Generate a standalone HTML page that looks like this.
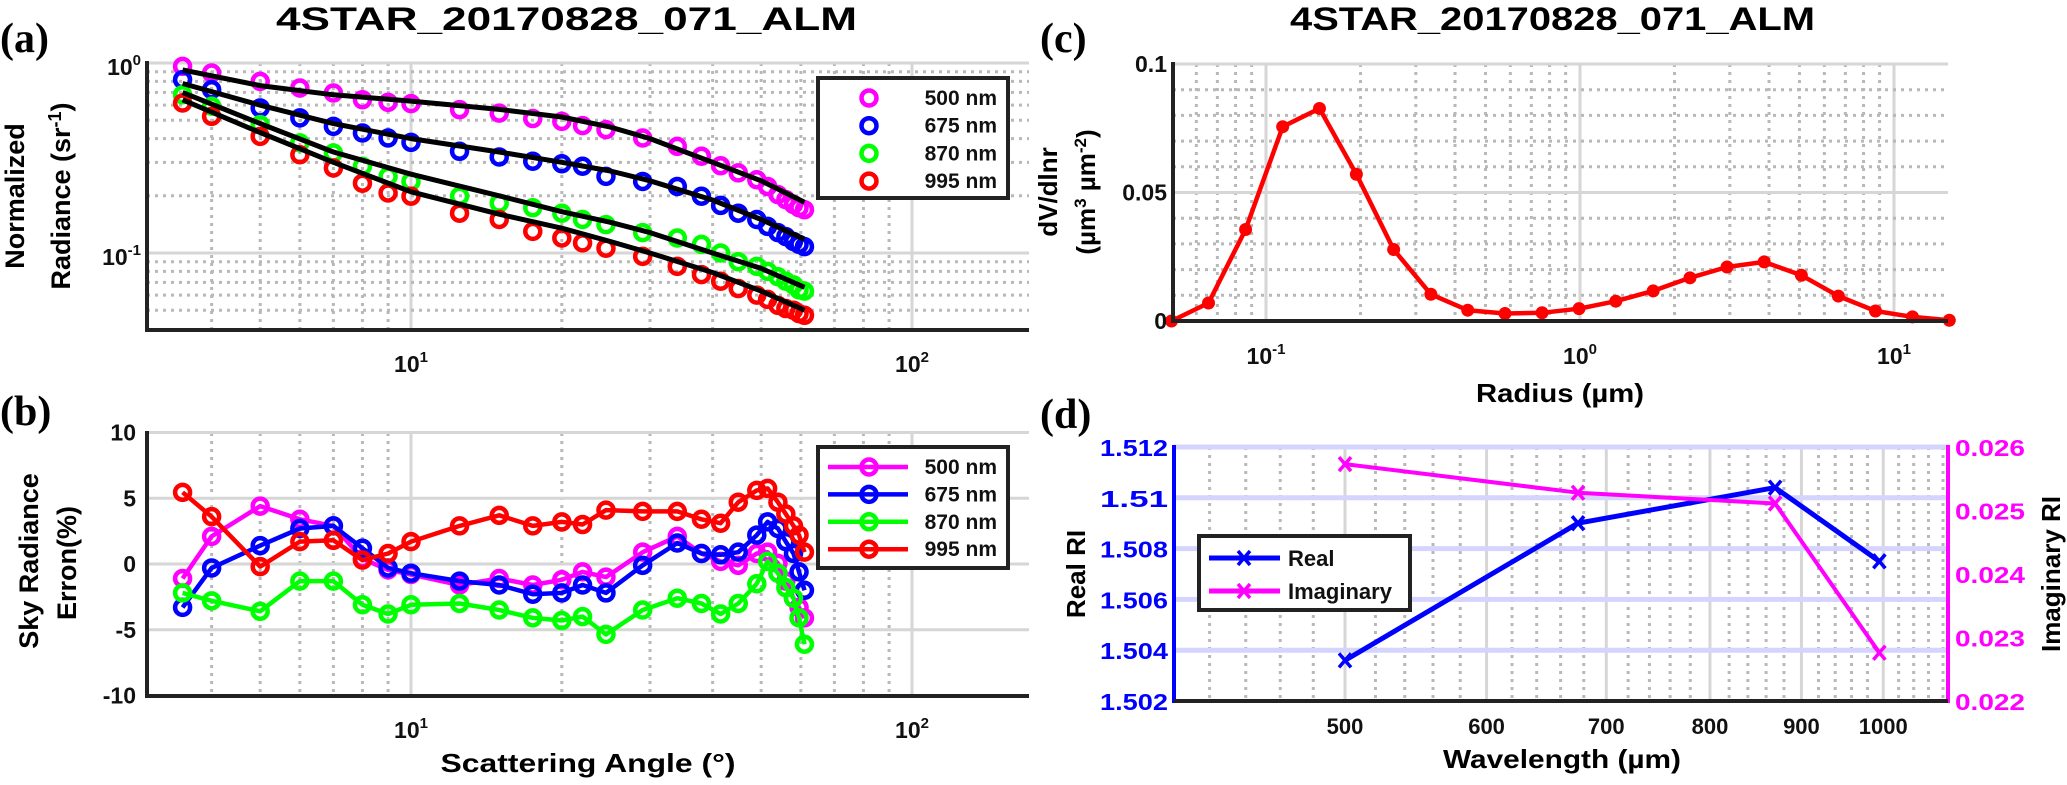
<!DOCTYPE html>
<html><head><meta charset="utf-8"><style>
html,body{margin:0;padding:0;background:#fff;}
svg{display:block;font-family:"Liberation Sans",sans-serif;}
</style></head><body>
<svg id="fig" width="2067" height="785" viewBox="0 0 2067 785" xmlns="http://www.w3.org/2000/svg">
<text x="0" y="52" font-family="Liberation Serif" font-weight="bold" font-size="42">(a)</text>
<text x="0" y="425" font-family="Liberation Serif" font-weight="bold" font-size="42">(b)</text>
<text x="1040" y="52" font-family="Liberation Serif" font-weight="bold" font-size="42">(c)</text>
<text x="1040" y="428" font-family="Liberation Serif" font-weight="bold" font-size="42">(d)</text>
<text x="276" y="30" font-weight="bold" font-size="32" textLength="581" lengthAdjust="spacingAndGlyphs">4STAR_20170828_071_ALM</text>
<text x="1290" y="30" font-weight="bold" font-size="32" textLength="525" lengthAdjust="spacingAndGlyphs">4STAR_20170828_071_ALM</text>
<text transform="translate(24,196) rotate(-90)" text-anchor="middle" font-weight="bold" font-size="27">Normalized</text>
<text transform="translate(70,196) rotate(-90)" text-anchor="middle" font-weight="bold" font-size="27">Radiance (sr<tspan dy="-9" font-size="18">-1</tspan><tspan dy="9">)</tspan></text>
<text transform="translate(38,561) rotate(-90)" text-anchor="middle" font-weight="bold" font-size="27">Sky Radiance</text>
<text transform="translate(76,563) rotate(-90)" text-anchor="middle" font-weight="bold" font-size="27">Erron(%)</text>
<text x="588" y="772" text-anchor="middle" font-weight="bold" font-size="26" textLength="295" lengthAdjust="spacingAndGlyphs">Scattering Angle (°)</text>
<text transform="translate(1057,192) rotate(-90)" text-anchor="middle" font-weight="bold" font-size="26">dV/dlnr</text>
<text transform="translate(1095,192) rotate(-90)" text-anchor="middle" font-weight="bold" font-size="26">(µm<tspan dy="-9" font-size="17">3</tspan><tspan dy="9"> µm</tspan><tspan dy="-9" font-size="17">-2</tspan><tspan dy="9">)</tspan></text>
<text x="1560" y="402" text-anchor="middle" font-weight="bold" font-size="26" textLength="168" lengthAdjust="spacingAndGlyphs">Radius (µm)</text>
<text transform="translate(1085,574) rotate(-90)" text-anchor="middle" font-weight="bold" font-size="26">Real RI</text>
<text transform="translate(2060,574) rotate(-90)" text-anchor="middle" font-weight="bold" font-size="26">Imaginary RI</text>
<text x="1562" y="768" text-anchor="middle" font-weight="bold" font-size="26" textLength="238" lengthAdjust="spacingAndGlyphs">Wavelength (µm)</text>
</svg>
<script>
// ---------- data ----------
const anglesA = [3.5,4,5,6,7,8,9,10,12.5,15,17.5,20,22,24.5,29,34,38,41.5,45,49,51.5,54,56,58,59.5,61];
const rad500 = [0.96,0.886,0.80,0.739,0.695,0.641,0.621,0.611,0.568,0.545,0.510,0.493,0.468,0.446,0.403,0.364,0.323,0.288,0.264,0.243,0.224,0.203,0.191,0.180,0.173,0.169];
const rad675 = [0.817,0.724,0.580,0.514,0.464,0.428,0.403,0.382,0.343,0.320,0.304,0.295,0.286,0.253,0.238,0.224,0.199,0.178,0.162,0.150,0.138,0.128,0.122,0.115,0.111,0.108];
const rad870 = [0.681,0.592,0.474,0.380,0.336,0.286,0.253,0.238,0.199,0.183,0.173,0.162,0.150,0.141,0.128,0.120,0.111,0.100,0.090,0.085,0.080,0.075,0.071,0.068,0.064,0.063];
const rad995 = [0.616,0.524,0.411,0.329,0.280,0.233,0.207,0.199,0.162,0.150,0.130,0.120,0.113,0.106,0.096,0.085,0.077,0.071,0.065,0.060,0.057,0.053,0.051,0.050,0.048,0.047];
const fitAngles = [3.5,5,7,10,15,20,25,30,40,50,61];
const fit500 = [0.92,0.76,0.68,0.63,0.57,0.52,0.46,0.40,0.30,0.24,0.185];
const fit675 = [0.78,0.60,0.48,0.40,0.34,0.30,0.27,0.24,0.19,0.15,0.118];
const fit870 = [0.70,0.48,0.34,0.26,0.20,0.165,0.145,0.128,0.10,0.083,0.066];
const fit995 = [0.64,0.43,0.30,0.21,0.16,0.135,0.115,0.10,0.079,0.063,0.050];
const err500 = [-1.1,2.1,4.4,3.4,2.9,0.4,-0.45,-0.8,-1.6,-1.1,-1.6,-1.2,-0.6,-1.0,0.9,2.1,0.8,0.2,-0.1,0.8,0.9,0.05,-1.3,-2.6,-3.3,-4.1];
const err675 = [-3.3,-0.3,1.4,2.7,2.9,1.2,-0.3,-0.7,-1.3,-1.6,-2.3,-2.2,-1.6,-2.2,-0.1,1.6,0.8,0.7,0.9,2.2,3.2,2.7,1.7,0.8,-0.6,-2.0];
const err870 = [-2.2,-2.8,-3.6,-1.3,-1.3,-3.1,-3.8,-3.1,-3.0,-3.5,-4.1,-4.3,-4.0,-5.35,-3.5,-2.6,-3.0,-3.8,-3.0,-1.5,0.2,-0.7,-1.8,-2.6,-4.1,-6.1];
const err995 = [5.45,3.6,-0.2,1.7,1.8,0.3,0.8,1.7,2.9,3.7,2.9,3.2,3.0,4.1,4.0,4.0,3.4,3.1,4.7,5.6,5.75,4.7,3.8,2.9,2.2,0.9];
const seriesLabels = ["500 nm","675 nm","870 nm","995 nm"];
const radiusC = [0.05,0.0656,0.0861,0.113,0.148,0.194,0.255,0.335,0.439,0.577,0.757,0.993,1.30,1.71,2.24,2.94,3.86,5.07,6.65,8.73,11.45,15.0];
const dvdlnr = [0,0.007,0.0356,0.0756,0.0827,0.0571,0.0278,0.0104,0.0042,0.0029,0.0032,0.0048,0.0077,0.0117,0.0168,0.021,0.023,0.0178,0.0097,0.0039,0.0016,0.0003];
const wavelengthD = [500,675,870,995];
const realRI = [1.5036,1.5090,1.5104,1.5075];
const imagRI = [0.02573,0.02528,0.02511,0.02276];
const ticksB_y = [10,5,0,-5,-10];
const ticksC_y = ["0.1","0.05","0"];
const ticksD_yl = ["1.512","1.51","1.508","1.506","1.504","1.502"];
const ticksD_yr = ["0.026","0.025","0.024","0.023","0.022"];
const ticksD_x = [500,600,700,800,900,1000];

// ---------- scales ----------
const L10 = Math.log10;
const xa = v => 411 + (L10(v)-1)*501;
const ya = v => 63 - L10(v)*190;
const yb = v => 564 - v*13.15;
const xc = v => 1580 + L10(v)*314;
const yc = v => 321 - v*2570;
const xd = v => 1345 + (L10(v)-L10(500))*1788;
const ydl = v => 701 - (v-1.502)*25400;
const ydr = v => 701 - (v-0.022)*63500;

const svg = document.getElementById('fig');
const NS = 'http://www.w3.org/2000/svg';
function mk(tag, attrs, name, parent){
  const el = document.createElementNS(NS, tag);
  for (const k in attrs) el.setAttribute(k, attrs[k]);
  
  
  (parent||svg).appendChild(el);
  return el;
}
function txt(x,y,s,name,extra){
  const t = mk('text', Object.assign({x:x,y:y,'font-weight':'bold','font-size':20,fill:'#111'}, extra||{}), name);
  t.textContent = s; return t;
}
function supTxt(x,y,base,exp,name,anchor){
  const t = mk('text', {x:x,y:y,'font-weight':'bold','font-size':23,fill:'#111','text-anchor':anchor||'middle'}, name);
  const a = document.createElementNS(NS,'tspan'); a.textContent = base; t.appendChild(a);
  const b = document.createElementNS(NS,'tspan'); b.setAttribute('dy','-10'); b.setAttribute('font-size','15'); b.textContent = exp; t.appendChild(b);
  return t;
}
const MAJ = '#d6d6d6', MIN = '#b8b8b8';
function vline(x,y1,y2,major,name){ mk('line',{x1:x,x2:x,y1:y1,y2:y2,stroke:major?MAJ:MIN,'stroke-width':3,'stroke-dasharray':major?'':'3 5'},name); }
function hline(y,x1,x2,major,name,col){ mk('line',{x1:x1,x2:x2,y1:y,y2:y,stroke:col||(major?MAJ:MIN),'stroke-width':col?5:3,'stroke-dasharray':(major||col)?'':'3 5'},name); }
function poly(xs,ys,col,w,name){
  const pts = xs.map((x,i)=>x.toFixed(1)+','+ys[i].toFixed(1)).join(' ');
  return mk('polyline',{points:pts,fill:'none',stroke:col,'stroke-width':w,'stroke-linejoin':'round'},name);
}
const cols = ['#ff00ff','#0000ff','#00ff00','#ff0000'];

// ---------- panel (a) ----------
(function(){
  const X0=147,X1=1029,Y0=63,Y1=330;
  [4,5,6,7,8,9,20,30,40,50,60,70,80,90].forEach(v=>vline(xa(v),Y0,Y1,false,'minor-grid-x-a'));
  [10,100].forEach(v=>vline(xa(v),Y0,Y1,true,'major-grid-x-a'));
  [0.05,0.06,0.07,0.08,0.09,0.2,0.3,0.4,0.5,0.6,0.7,0.8,0.9].forEach(v=>hline(ya(v),X0,X1,false,'minor-grid-y-a'));
  [0.1,1].forEach(v=>hline(ya(v),X0,X1,true,'major-grid-y-a'));
  const fits=[fit500,fit675,fit870,fit995], rads=[rad500,rad675,rad870,rad995];
  rads.forEach((r,s)=>{
    r.forEach((v,i)=>mk('circle',{cx:xa(anglesA[i]),cy:ya(v),r:7.5,fill:'none',stroke:cols[s],'stroke-width':4.5},'radiance-marker-'+seriesLabels[s].replace(' ','')));
  });
  fits.forEach((f,s)=>poly(fitAngles.map(xa),f.map(ya),'#000',5,'fit-line-'+seriesLabels[s].replace(' ','')));
  mk('line',{x1:X0,x2:X0,y1:Y0-2,y2:Y1+2,stroke:'#222','stroke-width':4},'y-axis-a');
  mk('line',{x1:X0-2,x2:X1,y1:Y1,y2:Y1,stroke:'#222','stroke-width':4},'x-axis-a');
  supTxt(141,75,'10','0','y-tick-label-a-1','end');
  supTxt(141,265,'10','-1','y-tick-label-a-0.1','end');
  supTxt(411,372,'10','1','x-tick-label-a-10');
  supTxt(912,372,'10','2','x-tick-label-a-100');
  mk('rect',{x:818,y:78,width:190,height:120,fill:'#fff',stroke:'#222','stroke-width':4},'legend-a');
  seriesLabels.forEach((s,i)=>{
    const y=98+i*27.7;
    mk('circle',{cx:869,cy:y,r:7.5,fill:'none',stroke:cols[i],'stroke-width':4.5},'legend-a-marker');
    txt(997,y+7,s,'legend-a-entry',{'text-anchor':'end','font-size':21});
  });
})();

// ---------- panel (b) ----------
(function(){
  const X0=147,X1=1029,Y0=433,Y1=696;
  [4,5,6,7,8,9,20,30,40,50,60,70,80,90].forEach(v=>vline(xa(v),Y0,Y1,false,'minor-grid-x-b'));
  [10,100].forEach(v=>vline(xa(v),Y0,Y1,true,'major-grid-x-b'));
  [10,5,0,-5].forEach(v=>hline(yb(v),X0,X1,true,'major-grid-y-b'));
  const errs=[err500,err675,err870,err995];
  errs.forEach((e,s)=>{
    const nm=seriesLabels[s].replace(' ','');
    poly(anglesA.map(xa),e.map(yb),cols[s],4.5,'error-line-'+nm);
    e.forEach((v,i)=>mk('circle',{cx:xa(anglesA[i]),cy:yb(v),r:7.5,fill:'none',stroke:cols[s],'stroke-width':4.5},'error-marker-'+nm));
  });
  mk('line',{x1:X0,x2:X0,y1:Y0-2,y2:Y1+2,stroke:'#222','stroke-width':4},'y-axis-b');
  mk('line',{x1:X0-2,x2:X1,y1:Y1,y2:Y1,stroke:'#222','stroke-width':4},'x-axis-b');
  ticksB_y.forEach(v=>txt(136,yb(v)+8,String(v),'y-tick-label-b',{'text-anchor':'end','font-size':23}));
  supTxt(411,738,'10','1','x-tick-label-b-10');
  supTxt(912,738,'10','2','x-tick-label-b-100');
  mk('rect',{x:818,y:447,width:190,height:121,fill:'#fff',stroke:'#222','stroke-width':4},'legend-b');
  seriesLabels.forEach((s,i)=>{
    const y=467+i*27.4;
    mk('line',{x1:828,x2:908,y1:y,y2:y,stroke:cols[i],'stroke-width':4.5},'legend-b-line');
    mk('circle',{cx:869,cy:y,r:7.5,fill:'none',stroke:cols[i],'stroke-width':4.5},'legend-b-marker');
    txt(997,y+7,s,'legend-b-entry',{'text-anchor':'end','font-size':21});
  });
})();

// ---------- panel (c) ----------
(function(){
  const X0=1173,X1=1948,Y0=64,Y1=321;
  [0.06,0.07,0.08,0.09,0.2,0.3,0.4,0.5,0.6,0.7,0.8,0.9,2,3,4,5,6,7,8,9].forEach(v=>vline(xc(v),Y0,Y1,false,'minor-grid-x-c'));
  [0.1,1,10].forEach(v=>vline(xc(v),Y0,Y1,true,'major-grid-x-c'));
  [0.01,0.02,0.03,0.04,0.06,0.07,0.08,0.09].forEach(v=>hline(yc(v),X0,X1,false,'minor-grid-y-c'));
  [0.05,0.1].forEach(v=>hline(yc(v),X0,X1,true,'major-grid-y-c'));
  poly(radiusC.map(xc),dvdlnr.map(yc),'#ff0000',4.5,'size-distribution-line');
  dvdlnr.forEach((v,i)=>mk('circle',{cx:xc(radiusC[i]),cy:yc(v),r:6.5,fill:'#ff0000'},'size-distribution-marker'));
  mk('line',{x1:X0,x2:X0,y1:Y0-2,y2:Y1+2,stroke:'#222','stroke-width':4},'y-axis-c');
  mk('line',{x1:X0-2,x2:X1,y1:Y1,y2:Y1,stroke:'#222','stroke-width':4},'x-axis-c');
  [0.1,0.05,0].forEach((v,i)=>txt(1167,yc(v)+8,ticksC_y[i],'y-tick-label-c',{'text-anchor':'end','font-size':23}));
  supTxt(1266,364,'10','-1','x-tick-label-c-0.1');
  supTxt(1580,364,'10','0','x-tick-label-c-1');
  supTxt(1894,364,'10','1','x-tick-label-c-10');
})();

// ---------- panel (d) ----------
(function(){
  const X0=1174,X1=1948,Y0=447,Y1=701;
  for(let v=420;v<=1080;v+=20){ if(v%100) vline(xd(v),Y0,Y1,false,'minor-grid-x-d'); }
  ticksD_x.forEach(v=>vline(xd(v),Y0,Y1,true,'major-grid-x-d'));
  [1.512,1.510,1.508,1.506,1.504].forEach(v=>hline(ydl(v),X0,X1,true,'major-grid-y-d','#d4d4ff'));
  poly(wavelengthD.map(xd),realRI.map(ydl),'#0000ff',5,'real-ri-line');
  poly(wavelengthD.map(xd),imagRI.map(ydr),'#ff00ff',4,'imaginary-ri-line');
  wavelengthD.forEach((w,i)=>{
    const x=xd(w), y=ydl(realRI[i]), y2=ydr(imagRI[i]);
    mk('path',{d:`M${x-6},${y-7}L${x+6},${y+7}M${x-6},${y+7}L${x+6},${y-7}`,stroke:'#0000ff','stroke-width':3.5},'real-ri-marker');
    mk('path',{d:`M${x-6},${y2-7}L${x+6},${y2+7}M${x-6},${y2+7}L${x+6},${y2-7}`,stroke:'#ff00ff','stroke-width':3.5},'imaginary-ri-marker');
  });
  mk('line',{x1:X0,x2:X0,y1:Y0-2,y2:Y1+2,stroke:'#0000ff','stroke-width':4},'y-axis-d-left');
  mk('line',{x1:X1,x2:X1,y1:Y0-2,y2:Y1+2,stroke:'#ff00ff','stroke-width':4},'y-axis-d-right');
  mk('line',{x1:X0,x2:X1,y1:Y1,y2:Y1,stroke:'#222','stroke-width':4},'x-axis-d');
  ticksD_yl.forEach((s,i)=>txt(1168,ydl(1.512-i*0.002)+9,s,'y-tick-label-d-left',{'text-anchor':'end','font-size':23,fill:'#0000ff',textLength:68,lengthAdjust:'spacingAndGlyphs'}));
  ticksD_yr.forEach((s,i)=>txt(1955,ydr(0.026-i*0.001)+9,s,'y-tick-label-d-right',{'font-size':23,fill:'#ff00ff',textLength:70,lengthAdjust:'spacingAndGlyphs'}));
  ticksD_x.forEach(v=>txt(xd(v),734,String(v),'x-tick-label-d',{'text-anchor':'middle','font-size':22}));
  mk('rect',{x:1199,y:536,width:211,height:74,fill:'#fff',stroke:'#222','stroke-width':4},'legend-d');
  [['Real','#0000ff',558],['Imaginary','#ff00ff',591]].forEach(e=>{
    mk('line',{x1:1209,x2:1280,y1:e[2],y2:e[2],stroke:e[1],'stroke-width':5},'legend-d-line');
    const x=1244,y=e[2];
    mk('path',{d:`M${x-6},${y-7}L${x+6},${y+7}M${x-6},${y+7}L${x+6},${y-7}`,stroke:e[1],'stroke-width':3.5},'legend-d-marker');
    txt(1288,y+8,e[0],'legend-d-entry',{'font-size':22});
  });
})();
</script>
</body></html>
